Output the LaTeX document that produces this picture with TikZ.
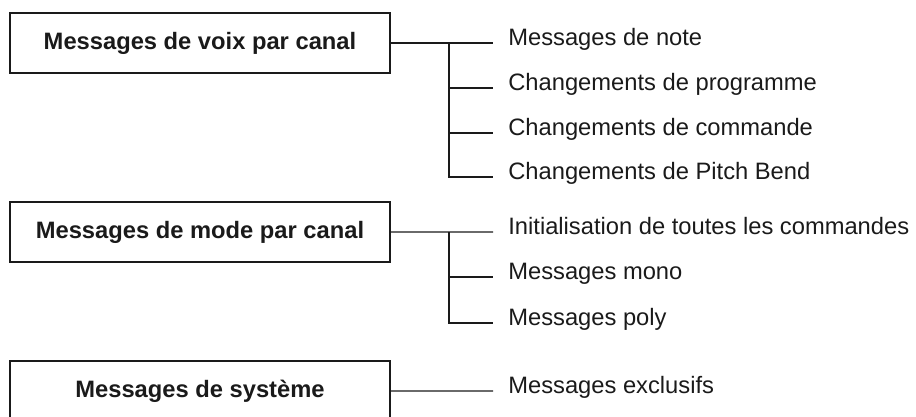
\documentclass[tikz,border=0pt]{standalone}
\usepackage{fontspec}
\setmainfont{Liberation Sans}
\usetikzlibrary{calc, positioning}
\definecolor{cink}{HTML}{1A1A1A}

\begin{document}
\begin{tikzpicture}
    \useasboundingbox (0,0) rectangle (18.32,-8.34);
    \clip (0,0) rectangle (18.32,-8.34);
    \begin{scope}[every node/.style={draw=cink, line width=1.2pt, minimum width=7.6cm, minimum height=1.2cm, font=\fontsize{13.5}{16}\selectfont\bfseries\color{cink}}]
        \node (voix) at (4.0,-0.86) {Messages de voix par canal};
        \node (mode) at (4.0,-4.64) {Messages de mode par canal};
        \node (sys) at (4.0,-7.82) {Messages de système};
    \end{scope}
    \begin{scope}[every node/.style={anchor=base west, inner sep=0pt, font=\fontsize{13.5}{16}\selectfont\color{cink}}]
        \node (v1) at (10.16,-0.90) {Messages de note};
        \node (v2) at (10.16,-1.80) {Changements de programme};
        \node (v3) at (10.16,-2.70) {Changements de commande};
        \node (v4) at (10.16,-3.58) {Changements de Pitch Bend};
        \node (m1) at (10.16,-4.68) {Initialisation de toutes les commandes};
        \node (m2) at (10.16,-5.58) {Messages mono};
        \node (m3) at (10.16,-6.50) {Messages poly};
        \node (s1) at (10.16,-7.86) {Messages exclusifs};
    \end{scope}
    \coordinate (jv) at (8.98,-0.86);
    \coordinate (jm) at (8.98,-4.64);
    \begin{scope}[draw=cink, line width=0.7pt]
        \draw (voix.east) -- ([shift={(-0.3,0.04)}]v1.base west);
        \foreach \i in {2,3,4} \draw (jv) |- ([shift={(-0.3,0.04)}]v\i.base west);
        \draw (mode.east) -- ([shift={(-0.3,0.04)}]m1.base west);
        \foreach \i in {2,3} \draw (jm) |- ([shift={(-0.3,0.04)}]m\i.base west);
        \draw (sys.east) -- ([shift={(-0.3,0.04)}]s1.base west);
    \end{scope}
\end{tikzpicture}
\end{document}
